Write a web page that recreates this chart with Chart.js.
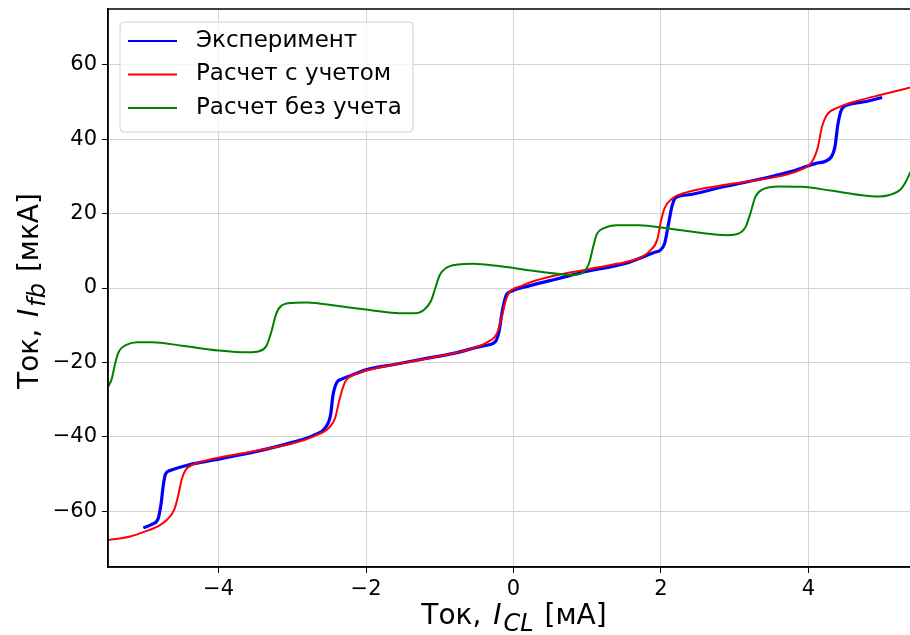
<!DOCTYPE html>
<html>
<head>
<meta charset="utf-8">
<script src="https://cdn.jsdelivr.net/npm/chart.js@4.4.1/dist/chart.umd.min.js"></script>
<style>
  html, body { margin: 0; padding: 0; background: #fff; overflow: hidden; }
  #wrap { width: 910px; height: 635px; overflow: hidden; }
</style>
</head>
<body>
<div id="wrap"><canvas id="myLineChart" width="920" height="635"></canvas></div>
<script>
// experiment (blue)
const expX = [-5.02, -4.9, -4.82, -4.78, -4.75, -4.72, -4.65, -4.4, -4.0, -3.5, -3.0, -2.7, -2.55, -2.48, -2.45, -2.4, -2.33, -2.2, -2.0, -1.6, -1.2, -0.8, -0.4, -0.25, -0.2, -0.15, -0.1, -0.02, 0.2, 0.6, 1.0, 1.5, 1.9, 2.0, 2.05, 2.1, 2.15, 2.2, 2.35, 2.8, 3.4, 3.8, 4.1, 4.3, 4.36, 4.4, 4.45, 4.55, 4.8, 5.0];
const expY = [-64.5, -63.5, -62, -58, -53, -50, -49, -47.5, -46, -44, -41.5, -39.5, -37.5, -34, -29, -25.5, -24.5, -23.5, -22, -20.5, -19, -17.5, -15.5, -14.5, -12, -6, -2, -0.8, 0.5, 2.5, 4.5, 6.5, 9.5, 10.3, 12, 17, 22, 24.3, 25, 27, 29.5, 31.5, 33.5, 35, 38, 44, 48, 49.3, 50.2, 51.2];

// calculation with (red)
const calcX = [-5.5, -5.2, -5.0, -4.8, -4.7, -4.6, -4.55, -4.5, -4.45, -4.35, -4.2, -4.0, -3.5, -3.0, -2.7, -2.5, -2.42, -2.36, -2.3, -2.25, -2.1, -1.8, -1.4, -1.0, -0.6, -0.35, -0.22, -0.15, -0.1, -0.05, 0.1, 0.3, 0.6, 1.0, 1.4, 1.7, 1.85, 1.95, 2.0, 2.05, 2.15, 2.4, 2.8, 3.2, 3.6, 3.9, 4.05, 4.13, 4.18, 4.25, 4.4, 4.7, 5.0, 5.5];
const calcY = [-67.8, -66.8, -65.5, -63.8, -62.3, -59.5, -56, -51.5, -49, -47.5, -46.5, -45.6, -43.8, -41.8, -39.8, -37.5, -35, -30, -26, -24.3, -22.8, -21.3, -19.8, -18.3, -16.5, -14.5, -12, -7, -3, -1, 0.5, 2, 3.5, 5, 6.5, 8, 10, 13, 18, 21.5, 24, 26, 27.5, 28.7, 30, 31.8, 34, 38, 43, 46.5, 48.5, 50.5, 52, 54.5];

// calculation without (green)
const noX = [-5.5, -5.45, -5.4, -5.35, -5.25, -5.1, -4.9, -4.5, -4.0, -3.6, -3.45, -3.35, -3.28, -3.22, -3.15, -3.0, -2.8, -2.4, -2.0, -1.6, -1.35, -1.22, -1.12, -1.06, -1.0, -0.92, -0.75, -0.55, -0.2, 0.2, 0.6, 0.8, 0.95, 1.03, 1.08, 1.13, 1.22, 1.4, 1.7, 2.1, 2.5, 2.9, 3.05, 3.15, 3.22, 3.28, 3.38, 3.6, 3.9, 4.3, 4.7, 4.95, 5.1, 5.25, 5.32, 5.38, 5.5];
const noY = [-26.6, -24.5, -20, -17, -15.3, -14.6, -14.6, -15.5, -16.8, -17.3, -17, -15.5, -11.5, -7, -4.8, -4, -3.9, -4.8, -5.8, -6.7, -6.8, -6, -3.5, 0, 3.5, 5.3, 6.3, 6.5, 5.9, 4.8, 3.8, 3.5, 4.3, 7, 11, 14.5, 16, 16.9, 16.9, 16, 14.9, 14.2, 14.6, 16.5, 20.5, 24.5, 26.5, 27.3, 27.2, 26.2, 25, 24.6, 25, 26.5, 28.5, 31, 36];

const seriesNames = ['Эксперимент', 'Расчет с учетом', 'Расчет без учета'];
const seriesColors = ['#0000ff', '#ff0000', '#008000'];
const xTicks = [-4, -2, 0, 2, 4];
const yTicks = [-60, -40, -20, 0, 20, 40, 60];

const FONT = 'DejaVu Sans';

function pts(xs, ys) {
    return xs.map(function(x, i) { return { x: x, y: ys[i] }; });
}
function fmt(v) {
    return v < 0 ? '\u2212' + (-v) : String(v);
}

const extras = {
    id: 'extras',
    afterDraw: function(chart) {
        const ctx = chart.ctx;
        const a = chart.chartArea;
        ctx.save();

        // axes box
        ctx.strokeStyle = '#000';
        ctx.lineWidth = 1.5;
        ctx.strokeRect(a.left, a.top, a.right - a.left, a.bottom - a.top);

        // axis titles with italic I and subscript
        const big = '28px "' + FONT + '"';
        const bigI = 'italic 28px "' + FONT + '"';
        const sub = 'italic 24px "' + FONT + '"';
        ctx.fillStyle = '#000';
        ctx.textBaseline = 'alphabetic';
        ctx.textAlign = 'left';
        function runs(parts) {
            let w = 0;
            parts.forEach(function(p) { ctx.font = p[1]; w += ctx.measureText(p[0]).width + p[3]; });
            return w;
        }
        function drawRuns(parts, x0, y0) {
            let x = x0;
            parts.forEach(function(p) {
                ctx.font = p[1];
                ctx.fillText(p[0], x, y0 + p[2]);
                x += ctx.measureText(p[0]).width + p[3];
            });
        }
        const xParts = [['Ток, ', big, 0, 3], ['I', bigI, 0, 2], ['CL', sub, 7, 2], [' [мА]', big, 0, 0]];
        const xw = runs(xParts);
        drawRuns(xParts, 514 - xw / 2, 624);

        const yParts = [['Ток, ', big, 0, 3], ['I', bigI, 0, 2], ['fb', sub, 7, 2], [' [мкА]', big, 0, 0]];
        const yw = runs(yParts);
        ctx.save();
        ctx.translate(38, 291);
        ctx.rotate(-Math.PI / 2);
        drawRuns(yParts, -yw / 2, 0);
        ctx.restore();

        // legend
        const lx = 120, ly = 22, lw = 293, lh = 110;
        ctx.beginPath();
        ctx.roundRect(lx, ly, lw, lh, 4);
        ctx.fillStyle = 'rgba(255,255,255,0.8)';
        ctx.fill();
        ctx.strokeStyle = '#d0d0d0';
        ctx.lineWidth = 1;
        ctx.stroke();
        ctx.font = '23px "' + FONT + '"';
        ctx.textBaseline = 'middle';
        seriesNames.forEach(function(name, i) {
            const y = 41 + i * 33.5;
            ctx.strokeStyle = seriesColors[i];
            ctx.lineWidth = 2;
            ctx.beginPath();
            ctx.moveTo(128, y);
            ctx.lineTo(177, y);
            ctx.stroke();
            ctx.fillStyle = '#000';
            ctx.fillText(name, 196, y);
        });
        ctx.restore();
    }
};

document.addEventListener('DOMContentLoaded', function() {
    const ctxLine = document.getElementById('myLineChart');
    new Chart(ctxLine, {
        type: 'line',
        data: {
            datasets: [
                {
                    label: seriesNames[0],
                    data: pts(expX, expY),
                    borderColor: seriesColors[0],
                    borderWidth: 3.2,
                    order: 2
                },
                {
                    label: seriesNames[1],
                    data: pts(calcX, calcY),
                    borderColor: seriesColors[1],
                    borderWidth: 2,
                    order: 1
                },
                {
                    label: seriesNames[2],
                    data: pts(noX, noY),
                    borderColor: seriesColors[2],
                    borderWidth: 2,
                    order: 0
                }
            ]
        },
        options: {
            responsive: false,
            animation: false,
            devicePixelRatio: 1,
            layout: { padding: { top: 9, right: 1, left: 0, bottom: 0 } },
            elements: {
                point: { radius: 0 },
                line: { cubicInterpolationMode: 'monotone', fill: false }
            },
            plugins: {
                legend: { display: false },
                tooltip: { enabled: false }
            },
            scales: {
                x: {
                    type: 'linear',
                    min: -5.5,
                    max: 5.5,
                    afterBuildTicks: function(s) { s.ticks = xTicks.map(function(v) { return { value: v }; }); },
                    afterFit: function(s) { s.height = 68; s.paddingLeft = 0; s.paddingRight = 0; },
                    ticks: {
                        callback: fmt,
                        color: '#000',
                        padding: 4,
                        maxRotation: 0,
                        font: { family: FONT, size: 21 }
                    },
                    grid: { color: '#d3d3d3', lineWidth: 1, tickColor: '#000', tickLength: 6 },
                    border: { color: '#000', width: 1.5 }
                },
                y: {
                    type: 'linear',
                    min: -75,
                    max: 75,
                    afterBuildTicks: function(s) { s.ticks = yTicks.map(function(v) { return { value: v }; }); },
                    afterFit: function(s) { s.width = 108; s.paddingTop = 0; s.paddingBottom = 0; },
                    ticks: {
                        callback: fmt,
                        color: '#000',
                        padding: 5,
                        font: { family: FONT, size: 21 }
                    },
                    grid: { color: '#d3d3d3', lineWidth: 1, tickColor: '#000', tickLength: 6 },
                    border: { color: '#000', width: 1.5 }
                }
            }
        },
        plugins: [extras]
    });
});
</script>
</body>
</html>
